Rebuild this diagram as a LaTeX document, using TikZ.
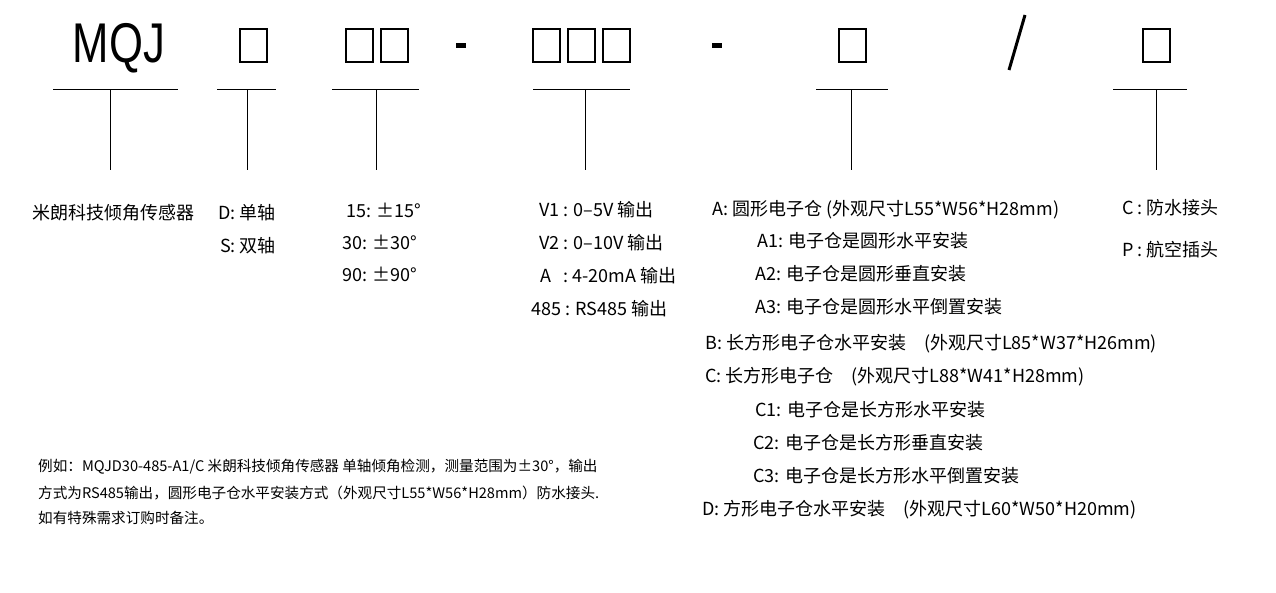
\documentclass[tikz,border=0pt]{standalone}
\usepackage{fontspec}
\setmainfont{Noto Sans CJK SC}
\newfontfamily\bigf{Liberation Sans}
\begin{document}
\begin{tikzpicture}[x=1pt,y=-1pt,
  lab/.style={anchor=west,inner sep=0pt,font=\fontsize{18}{20}\selectfont},
  note/.style={anchor=west,inner sep=0pt,font=\fontsize{14.6}{17}\selectfont},
  ln/.style={line width=0.8pt},
  bx/.style={draw,line width=2pt,minimum width=27pt,minimum height=33pt,inner sep=0pt}]
\useasboundingbox (0,0) rectangle (1276,592);
\node[inner sep=0pt,font=\bigf\fontsize{56}{60}\selectfont,xscale=0.78] (mqj) at (119,48) {MQJ};
\node[bx] (b1) at (253,45) {};
\node[bx] (b2) at (359,45) {};
\node[bx] (b3) at (394,45) {};
\node[bx] (b4) at (546,45) {};
\node[bx] (b5) at (581,45) {};
\node[bx] (b6) at (616,45) {};
\node[bx] (b7) at (852,45) {};
\node[bx] (b8) at (1156,45) {};
\draw[line width=5pt] (456,45) -- (466,45);
\draw[line width=5pt] (712,45) -- (722,45);
\draw[line width=3pt] (1025,15) -- (1009,70);
\foreach \a/\b/\c in {53/178/110,217/276/247,332/419/376,533/630/585,816/888/851,1113/1187/1156}{
  \draw[ln] (\a,89) -- (\b,89);
  \draw[ln] (\c,89) -- (\c,170);
}
\node[lab] (t1) at (32,213) {米朗科技倾角传感器};
\node[lab] (t2) at (218,213) {D: 单轴};
\node[lab] (t3) at (220,246) {S: 双轴};
\node[lab] (t4) at (346,210) {15: ±15°};
\node[lab] (t5) at (342,242) {30: ±30°};
\node[lab] (t6) at (342,274) {90: ±90°};
\node[lab] (v1) at (539,210) {V1 : 0--5V 输出};
\node[lab] (v2) at (539,243) {V2 : 0--10V 输出};
\node[lab] (v3) at (540,276) {A \ \ : 4-20mA 输出};
\node[lab] (v4) at (531,309) {485 : RS485 输出};
\node[lab] (a) at (712,210) {A: 圆形电子仓 (外观尺寸L55*W56*H28mm)};
\node[lab] (a1) at (757,241) {A1: 电子仓是圆形水平安装};
\node[lab] (a2) at (755,274) {A2: 电子仓是圆形垂直安装};
\node[lab] (a3) at (755,307) {A3: 电子仓是圆形水平倒置安装};
\node[lab] (b) at (705,344) {B: 长方形电子仓水平安装\quad (外观尺寸L85*W37*H26mm)};
\node[lab] (c) at (705,377) {C: 长方形电子仓\quad (外观尺寸L88*W41*H28mm)};
\node[lab] (c1) at (755,410) {C1: 电子仓是长方形水平安装};
\node[lab] (c2) at (753,443) {C2: 电子仓是长方形垂直安装};
\node[lab] (c3) at (753,476) {C3: 电子仓是长方形水平倒置安装};
\node[lab] (d) at (702,510) {D: 方形电子仓水平安装\quad (外观尺寸L60*W50*H20mm)};
\node[lab] (p1) at (1122,208) {C : 防水接头};
\node[lab] (p2) at (1122,250) {P : 航空插头};
\node[note] (n1) at (38,467) {例如：MQJD30-485-A1/C 米朗科技倾角传感器 单轴倾角检测，测量范围为±30°，输出};
\node[note] (n2) at (38,493) {方式为RS485输出，圆形电子仓水平安装方式（外观尺寸L55*W56*H28mm）防水接头.};
\node[note] (n3) at (38,518) {如有特殊需求订购时备注。};
\end{tikzpicture}
\end{document}
